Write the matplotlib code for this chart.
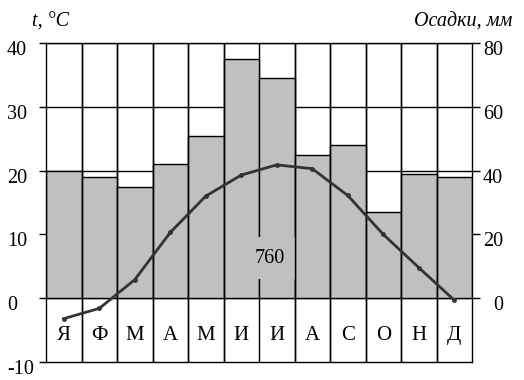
import matplotlib.pyplot as plt
import matplotlib.transforms as mtransforms
from matplotlib.ticker import FixedLocator, FixedFormatter

months = ['Я', 'Ф', 'М', 'А', 'М', 'И', 'И', 'А', 'С', 'О', 'Н', 'Д']
precip = [40, 38, 35, 42, 51, 75, 69, 45, 48, 27, 39, 38]      # мм
temp = [-3.2, -1.6, 2.9, 10.3, 16.0, 19.3, 20.9, 20.3, 16.1, 10.0, 4.8, -0.3]  # °C
total = '760'

temp_ticks = [-10, 0, 10, 20, 30, 40]
precip_ticks = [0, 20, 40, 60, 80]
grid_mm = [0, 40, 60, 80]

plt.rcParams['font.family'] = ['Liberation Serif', 'DejaVu Serif']

fig = plt.figure(figsize=(5.24, 3.80), dpi=100)
ax = fig.add_axes([46 / 524, 1 - 362 / 380, 426 / 524, 319 / 380])
tax = ax.twinx()   # temperature axis, drawn on top of the bars
x = list(range(len(months)))
total_x, total_y = 5.81, 12.6

# tick labels sit a little below their ticks in the original
shift = mtransforms.ScaledTranslation(0, -5 / 100, fig.dpi_scale_trans)

# precipitation bars (mm axis, shown on the right)
ax.bar(x, precip, width=1, color='#c0c0c0', edgecolor='black', linewidth=1, zorder=2)
for g in grid_mm:
    ax.axhline(g, color='black', linewidth=1, zorder=1)
bounds = [i + 0.5 for i in x[:-1]]
ax.vlines(bounds, -20, 80, color='black', linewidth=1, zorder=1)
# the month line under the "760" label is broken by it, the others are not
others = [b for b in bounds if abs(b - total_x) > 0.5]
ax.vlines(others, -20, 80, color='black', linewidth=1, zorder=3.5)
ax.set_xlim(-0.5, len(months) - 0.5)
ax.set_ylim(-20, 80)
ax.set_xticks([])
ax.yaxis.tick_right()
ax.yaxis.set_major_locator(FixedLocator(precip_ticks))
ax.yaxis.set_major_formatter(FixedFormatter([str(v) for v in precip_ticks]))
ax.yaxis.set_minor_locator(FixedLocator([20]))
ax.tick_params(axis='y', which='major', direction='out', length=5.8, width=1,
               labelsize=14.5, pad=16.5)
ax.tick_params(axis='y', which='minor', direction='in', length=6.5, width=1)
for lab in ax.get_yticklabels():
    lab.set_horizontalalignment('right')
    lab.set_transform(lab.get_transform() + shift)
for s in ax.spines.values():
    s.set_linewidth(1)

for i, m in enumerate(months):
    ax.text(i, -11.8, m, ha='center', va='center', fontsize=15, zorder=3)

ax.text(total_x, total_y, total, ha='center', va='center', fontsize=14.5, zorder=3,
        bbox=dict(facecolor='#c0c0c0', edgecolor='none', pad=8))

# temperature line (°C axis, on the left)
tax.plot(x, temp, color='#333333', linewidth=2, marker='o', markersize=2.5, zorder=4)
tax.set_ylim(-10, 40)
tax.yaxis.tick_left()
tax.yaxis.set_major_locator(FixedLocator(temp_ticks))
tax.yaxis.set_major_formatter(FixedFormatter([str(v) for v in temp_ticks]))
tax.yaxis.set_minor_locator(FixedLocator([10]))
tax.tick_params(axis='y', which='major', direction='out', length=5, width=1,
                labelsize=14.5, pad=23)
tax.tick_params(axis='y', which='minor', direction='in', length=6, width=1)
for lab in tax.get_yticklabels():
    lab.set_horizontalalignment('left')
    lab.set_transform(lab.get_transform() + shift)
for s in tax.spines.values():
    s.set_visible(False)

fig.text(32 / 524, 1 - 22 / 380, 't, °C', style='italic', fontsize=14.5,
         ha='left', va='center')
fig.text(512 / 524, 1 - 22 / 380, 'Осадки, мм', style='italic', fontsize=14.5,
         ha='right', va='center')

fig.savefig('out.png', dpi=100)
